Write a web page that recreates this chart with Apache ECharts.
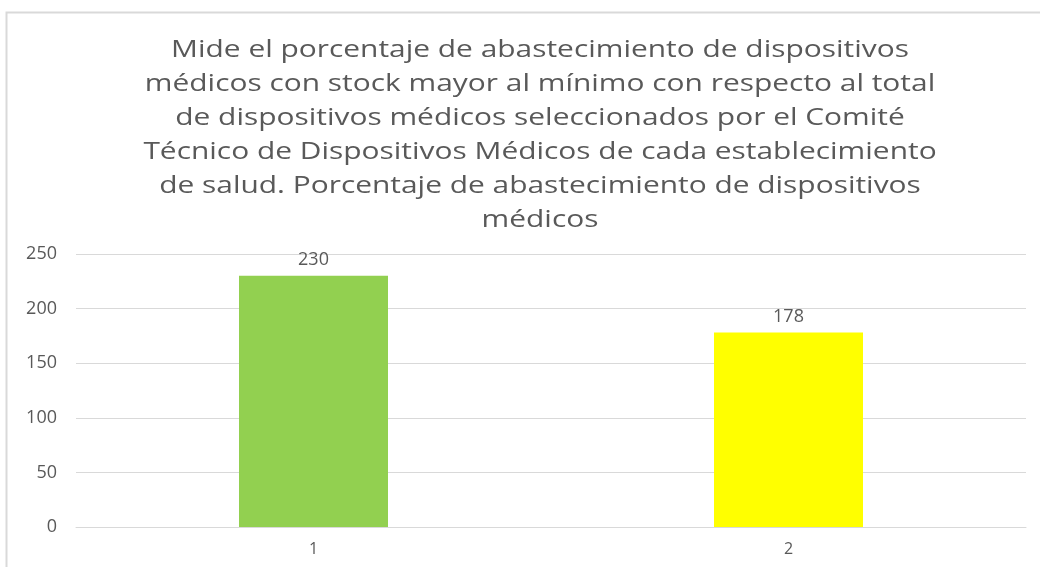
<!DOCTYPE html>
<html>
<head>
<meta charset="utf-8">
<script src="https://cdn.jsdelivr.net/npm/echarts@6/dist/echarts.min.js"></script>
<style>
  html, body { margin: 0; padding: 0; background: #fff; }
  #main { width: 1040px; height: 567px; }
</style>
</head>
<body>
<div id="main"></div>
<script>
// chart data
const categories = ['1', '2'];
const values = [230, 178];
const barColors = ['#92D050', '#FFFF00'];
const titleLines = [
  'Mide el porcentaje de abastecimiento de dispositivos',
  'médicos con stock mayor al mínimo con respecto al total',
  'de dispositivos médicos seleccionados por el Comité',
  'Técnico de Dispositivos Médicos de cada establecimiento',
  'de salud. Porcentaje de abastecimiento de dispositivos',
  'médicos'
];

const chart = echarts.init(document.getElementById('main'));

const option = {
  animation: false,
  textStyle: { fontFamily: 'Open Sans' },
  graphic: [{
    type: 'rect',
    shape: { x: 6.5, y: 12.5, width: 1100, height: 700 },
    style: { fill: 'none', stroke: '#d9d9d9', lineWidth: 2 },
    silent: true
  }, {
    // title drawn as text, stretched wide like the original
    type: 'text',
    x: 540,
    y: 33,
    scaleX: 1.3,
    silent: true,
    style: {
      text: titleLines.join('\n'),
      align: 'center',
      verticalAlign: 'top',
      fontFamily: 'Open Sans',
      fontSize: 23,
      lineHeight: 34,
      fill: '#595959'
    }
  }],
  grid: { left: 76, right: 14, top: 254, bottom: 40, containLabel: false },
  xAxis: {
    type: 'category',
    data: categories,
    axisLine: { lineStyle: { color: '#d9d9d9', width: 1 } },
    axisTick: { show: false },
    axisLabel: { color: '#595959', fontSize: 16, margin: 14 }
  },
  yAxis: {
    type: 'value',
    min: 0,
    max: 250,
    interval: 50,
    axisLine: { show: false },
    axisTick: { show: false },
    axisLabel: { color: '#595959', fontSize: 18, margin: 19 },
    splitLine: { lineStyle: { color: '#d9d9d9', width: 1 } }
  },
  series: [{
    type: 'bar',
    barWidth: 149,
    data: values.map((v, i) => ({ value: v, itemStyle: { color: barColors[i] } })),
    label: {
      show: true,
      position: 'top',
      distance: 7,
      color: '#595959',
      fontSize: 18
    }
  }]
};

chart.setOption(option);
</script>
</body>
</html>
